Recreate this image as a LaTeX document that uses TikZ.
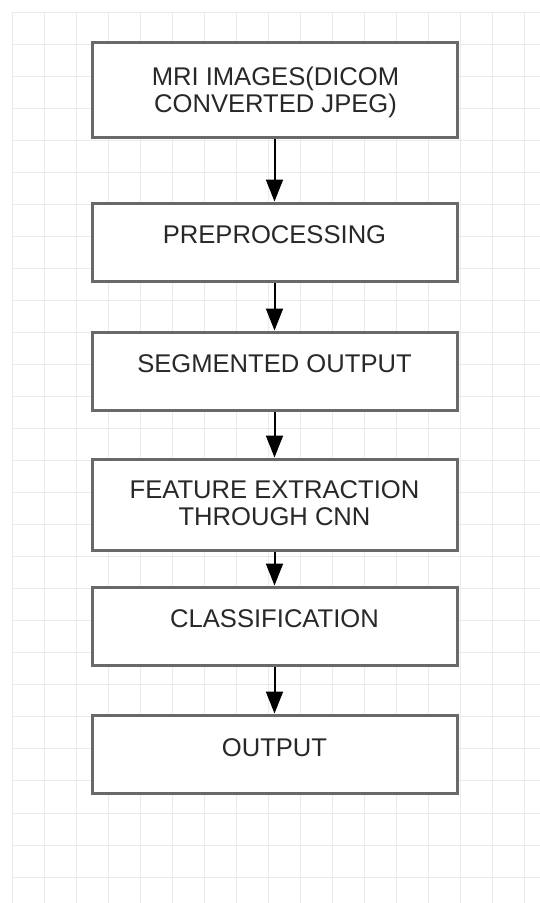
\documentclass[tikz,border=0pt]{standalone}
\usepackage{fontspec}
\setmainfont{Liberation Sans}
\usetikzlibrary{arrows.meta}
\definecolor{gridc}{RGB}{234,234,234}
\definecolor{boxc}{RGB}{105,105,105}
\definecolor{txtc}{RGB}{40,40,40}
\begin{document}
\begin{tikzpicture}[x=1pt,y=-1pt,
  stepbox/.style={draw=boxc, line width=3pt, fill=white, minimum width=365pt, inner sep=0pt},
  lbl/.style={anchor=center, font=\fontsize{25.6}{27}\selectfont, text=txtc, align=center, inner sep=0pt},
  flow/.style={draw=black, line width=2pt, -{Triangle[width=17pt,length=22pt]}}]
\useasboundingbox (0,0) rectangle (540,903);
\fill[white] (0,0) rectangle (540,903);
\foreach \i in {0,...,16} \draw[gridc, line width=1pt] ({12+32.06*\i},12) -- ({12+32.06*\i},903);
\foreach \j in {0,...,27} \draw[gridc, line width=1pt] (12,{12+32.04*\j}) -- (540,{12+32.04*\j});

\node[stepbox, minimum height=95pt] (b1) at (274.5,89.5) {};
\node[stepbox, minimum height=78pt] (b2) at (274.5,242) {};
\node[stepbox, minimum height=78pt] (b3) at (274.5,371) {};
\node[stepbox, minimum height=91pt] (b4) at (274.5,504.5) {};
\node[stepbox, minimum height=78pt] (b5) at (274.5,626) {};
\node[stepbox, minimum height=78pt] (b6) at (274.5,754) {};

\node[lbl] (t1) at (275.5,91.9) {MRI IMAGES(DICOM\\CONVERTED JPEG)};
\node[lbl] (t2) at (274.5,235) {PREPROCESSING};
\node[lbl] (t3) at (274.5,364) {SEGMENTED OUTPUT};
\node[lbl] (t4) at (274.5,503.2) {FEATURE EXTRACTION\\THROUGH CNN};
\node[lbl] (t5) at (274.5,619) {CLASSIFICATION};
\node[lbl] (t6) at (274.5,747.5) {OUTPUT};

\draw[flow] (b1) -- (b2);
\draw[flow] (b2) -- (b3);
\draw[flow] (b3) -- (b4);
\draw[flow] (b4) -- (b5);
\draw[flow] (b5) -- (b6);
\end{tikzpicture}
\end{document}
